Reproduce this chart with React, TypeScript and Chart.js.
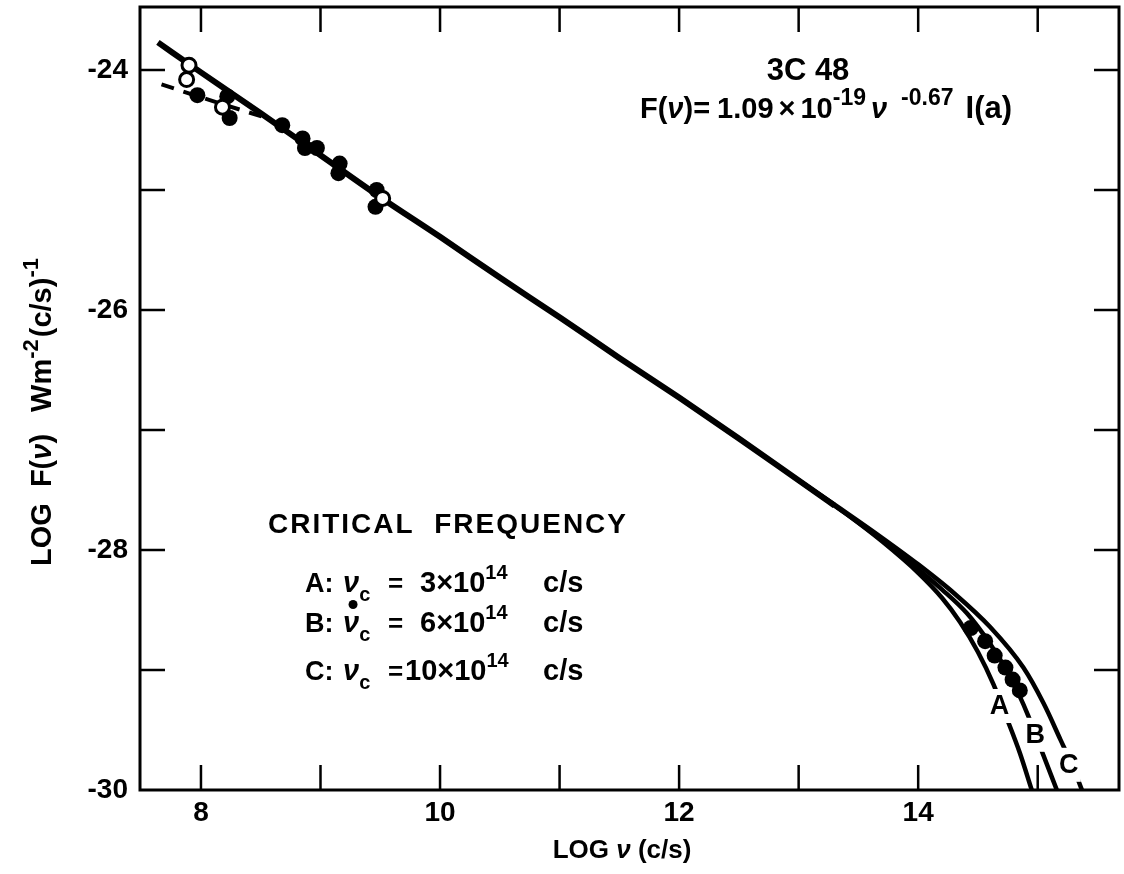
import React, { useEffect, useRef } from 'react';
import { Chart, registerables } from 'chart.js';

Chart.register(...registerables);

// ---------- data ----------
const xLabelValues = [8, 10, 12, 14];
const yLabelValues = [-24, -26, -28, -30];

// power-law fit line (solid)
const fitX = [7.64, 8.0, 8.5, 9.0, 9.5, 10.0, 10.5, 11.0, 11.5, 12.0, 12.5, 13.0, 13.3];
const fitY = [-23.77, -24.02, -24.36, -24.71, -25.06, -25.39, -25.73, -26.06, -26.4, -26.73, -27.07, -27.42, -27.63];

// low-frequency dashed line
const dashX = [7.67, 8.1, 8.55];
const dashY = [-24.12, -24.26, -24.4];

// cut-off curves A, B, C
const curveAX = [13.0, 13.4, 13.7, 14.0, 14.2, 14.35, 14.5, 14.63, 14.74, 14.85, 14.95];
const curveAY = [-27.42, -27.7, -27.93, -28.19, -28.4, -28.6, -28.85, -29.12, -29.4, -29.69, -30.0];
const curveBX = [13.0, 13.4, 13.7, 14.0, 14.2, 14.41, 14.6, 14.72, 14.85, 14.92, 15.02, 15.16];
const curveBY = [-27.42, -27.7, -27.92, -28.16, -28.33, -28.53, -28.78, -28.97, -29.22, -29.38, -29.64, -30.0];
const curveCX = [13.0, 13.4, 13.7, 14.0, 14.3, 14.6, 14.88, 15.05, 15.19, 15.3, 15.37];
const curveCY = [-27.42, -27.69, -27.9, -28.12, -28.36, -28.64, -28.98, -29.28, -29.58, -29.82, -30.0];

// observations
const filledX = [7.97, 8.22, 8.24, 8.68, 8.85, 8.87, 8.97, 9.16, 9.15, 9.47, 9.46, 14.44, 14.56, 14.64, 14.73, 14.79, 14.85];
const filledY = [-24.21, -24.22, -24.4, -24.46, -24.57, -24.65, -24.65, -24.78, -24.86, -25.0, -25.14, -28.65, -28.76, -28.88, -28.98, -29.08, -29.17];
const openX = [7.9, 7.88, 8.18, 9.52];
const openY = [-23.96, -24.08, -24.31, -25.07];

// curve labels
const curveLabels = ['A', 'B', 'C'];
const curveLabelX = [14.68, 14.98, 15.26];
const curveLabelY = [-29.3, -29.54, -29.79];

const FONT = '"Liberation Sans", Arial, sans-serif';
const f = (size: number, italic = false) => `${italic ? 'italic ' : ''}bold ${size}px ${FONT}`;

type Run = { t: string; pos?: 'sup' | 'sub'; gap?: number; italic?: boolean; dotAbove?: boolean; size?: number };

function drawRuns(
  ctx: CanvasRenderingContext2D, x: number, y: number, runs: Run[], size: number,
  measureOnly = false, supScale = 0.68,
) {
  let cx = x;
  for (const r of runs) {
    cx += r.gap ?? 0;
    const s = r.size ?? (r.pos ? Math.round(size * supScale) : size);
    ctx.font = f(s, r.italic);
    const dy = r.pos === 'sup' ? -size * 0.45 : r.pos === 'sub' ? size * 0.3 : 0;
    const w = ctx.measureText(r.t).width;
    if (!measureOnly) {
      ctx.fillText(r.t, cx, y + dy);
      if (r.dotAbove) {
        ctx.beginPath();
        ctx.arc(cx + w / 2 + 2, y - size * 0.95, 4.5, 0, Math.PI * 2);
        ctx.fill();
      }
    }
    cx += w;
  }
  return cx - x;
}

const pts = (xs: number[], ys: number[]) => xs.map((x, i) => ({ x, y: ys[i] }));

const decorPlugin = {
  id: 'decor',
  afterDatasetsDraw(chart: any) {
    const ctx: CanvasRenderingContext2D = chart.ctx;
    const xs = chart.scales.x;
    const ys = chart.scales.y;
    ctx.save();
    ctx.textAlign = 'center';
    ctx.textBaseline = 'middle';
    ctx.font = f(27);
    curveLabels.forEach((t, i) => {
      const px = xs.getPixelForValue(curveLabelX[i]);
      const py = ys.getPixelForValue(curveLabelY[i]);
      ctx.fillStyle = '#fff';
      ctx.fillRect(px - 12, py - 17, 24, 34);
      ctx.fillStyle = '#000';
      ctx.fillText(t, px, py + 1);
    });
    ctx.restore();
  },
  afterDraw(chart: any) {
    const ctx: CanvasRenderingContext2D = chart.ctx;
    const { left, right, top, bottom } = chart.chartArea;
    const xs = chart.scales.x;
    const ys = chart.scales.y;
    ctx.save();
    // frame
    ctx.strokeStyle = '#000';
    ctx.lineWidth = 3;
    ctx.strokeRect(left, top, right - left, bottom - top);
    // inward ticks
    ctx.lineWidth = 2.5;
    const tl = 25;
    for (let v = Math.ceil(xs.min); v <= Math.floor(xs.max); v++) {
      const px = xs.getPixelForValue(v);
      ctx.beginPath();
      ctx.moveTo(px, bottom);
      ctx.lineTo(px, bottom - tl);
      ctx.moveTo(px, top);
      ctx.lineTo(px, top + tl);
      ctx.stroke();
    }
    for (let v = Math.ceil(ys.min) + 1; v <= Math.floor(ys.max); v++) {
      const py = ys.getPixelForValue(v);
      ctx.beginPath();
      ctx.moveTo(left, py);
      ctx.lineTo(left + tl, py);
      ctx.moveTo(right, py);
      ctx.lineTo(right - tl, py);
      ctx.stroke();
    }

    ctx.fillStyle = '#000';
    ctx.textBaseline = 'alphabetic';
    ctx.textAlign = 'left';
    // title block
    ctx.font = f(31);
    const t1 = '3C 48';
    const w1 = ctx.measureText(t1).width;
    ctx.fillText(t1, 808 - w1 / 2, 80);
    drawRuns(ctx, 640, 118, [
      { t: 'F(' },
      { t: 'ν', italic: true },
      { t: ')=' },
      { t: '1.09', gap: 7 },
      { t: '×', gap: 5 },
      { t: '10', gap: 5 },
      { t: '-19', pos: 'sup' },
      { t: 'ν', italic: true, gap: 5 },
      { t: '-0.67', pos: 'sup', gap: 14 },
      { t: 'I(a)', gap: 12, size: 31 },
    ], 29, false, 0.8);

    // critical frequency block
    ctx.font = f(28);
    (ctx as any).letterSpacing = '2px';
    ctx.fillText('CRITICAL  FREQUENCY', 268, 533);
    (ctx as any).letterSpacing = '0px';
    const rows: { y: number; lab: string; val: Run[]; dot?: boolean }[] = [
      { y: 592, lab: 'A:', val: [{ t: '3×10' }, { t: '14', pos: 'sup' }] },
      { y: 632, lab: 'B:', val: [{ t: '6×10' }, { t: '14', pos: 'sup' }], dot: true },
      { y: 680, lab: 'C:', val: [{ t: '10×10' }, { t: '14', pos: 'sup' }] },
    ];
    rows.forEach((r, i) => {
      drawRuns(ctx, 305, r.y, [{ t: r.lab }], 27);
      drawRuns(ctx, 343, r.y, [{ t: 'ν', italic: true, dotAbove: r.dot }, { t: 'c', pos: 'sub' }], 29);
      drawRuns(ctx, 388, r.y, [{ t: '=' }], 26);
      drawRuns(ctx, i === 2 ? 405 : 420, r.y, r.val, 29);
      drawRuns(ctx, 543, r.y, [{ t: 'c/s' }], 29);
    });

    // x-axis title
    const xRuns: Run[] = [{ t: 'LOG ' }, { t: 'ν', italic: true }, { t: ' (c/s)' }];
    const xw = drawRuns(ctx, 0, 0, xRuns, 26, true);
    drawRuns(ctx, 622 - xw / 2, 858, xRuns, 26);

    // y-axis title (rotated)
    const yRuns: Run[] = [
      { t: 'LOG' },
      { t: 'F(', gap: 16 },
      { t: 'ν', italic: true },
      { t: ')' },
      { t: 'Wm', gap: 22 },
      { t: '-2', pos: 'sup' },
      { t: '(c/s)', gap: 2 },
      { t: '-1', pos: 'sup' },
    ];
    const yw = drawRuns(ctx, 0, 0, yRuns, 29, true, 0.75);
    ctx.translate(40, 412);
    ctx.rotate(-Math.PI / 2);
    drawRuns(ctx, -yw / 2, 11, yRuns, 29, false, 0.75);
    ctx.restore();
  },
};

export default function App() {
  const ref = useRef<HTMLCanvasElement | null>(null);
  useEffect(() => {
    if (!ref.current) return;
    const lineDefaults = { showLine: true, pointRadius: 0, borderColor: '#000', backgroundColor: '#000', fill: false };
    const chart = new Chart(ref.current, {
      type: 'scatter',
      data: {
        datasets: [
          { label: 'open', data: pts(openX, openY), pointRadius: 7, pointBackgroundColor: '#fff', pointBorderColor: '#000', pointBorderWidth: 3, showLine: false },
          { label: 'filled', data: pts(filledX, filledY), pointRadius: 8, pointBackgroundColor: '#000', pointBorderColor: '#000', pointBorderWidth: 0, showLine: false },
          { label: 'fit', data: pts(fitX, fitY), ...lineDefaults, borderWidth: 6, cubicInterpolationMode: 'monotone' },
          { label: 'dashed', data: pts(dashX, dashY), ...lineDefaults, borderWidth: 4, borderDash: [13, 10] },
          { label: 'A', data: pts(curveAX, curveAY), ...lineDefaults, borderWidth: 4.5, cubicInterpolationMode: 'monotone' },
          { label: 'B', data: pts(curveBX, curveBY), ...lineDefaults, borderWidth: 4.5, cubicInterpolationMode: 'monotone' },
          { label: 'C', data: pts(curveCX, curveCY), ...lineDefaults, borderWidth: 4.5, cubicInterpolationMode: 'monotone' },
        ] as any,
      },
      options: {
        responsive: false,
        animation: false,
        layout: { autoPadding: false, padding: { top: 7, right: 5, left: 0, bottom: 0 } },
        plugins: { legend: { display: false }, tooltip: { enabled: false } },
        scales: {
          x: {
            type: 'linear',
            min: 7.49,
            max: 15.68,
            grid: { display: false, drawTicks: false },
            border: { display: false },
            afterFit: (s: any) => { s.height = 84; s.paddingLeft = 0; s.paddingRight = 0; },
            ticks: {
              stepSize: 1,
              includeBounds: false,
              autoSkip: false,
              maxRotation: 0,
              padding: 6,
              color: '#000',
              font: { family: FONT, size: 28, weight: 'bold' },
              callback: (v: any) => (xLabelValues.includes(Number(v)) ? String(v) : ''),
            },
          },
          y: {
            type: 'linear',
            min: -30,
            max: -23.475,
            grid: { display: false, drawTicks: false },
            border: { display: false },
            afterFit: (s: any) => { s.width = 140; s.paddingTop = 0; s.paddingBottom = 0; },
            ticks: {
              stepSize: 1,
              includeBounds: false,
              autoSkip: false,
              padding: 12,
              color: '#000',
              font: { family: FONT, size: 28, weight: 'bold' },
              callback: (v: any) => (yLabelValues.includes(Number(v)) ? String(v) : ''),
            },
          },
        },
      },
      plugins: [decorPlugin],
    });
    return () => chart.destroy();
  }, []);
  return (
    <div style={{ position: 'absolute', left: 0, top: 0, width: 1124, height: 874, background: '#fff' }}>
      <canvas ref={ref} width={1124} height={874} style={{ display: 'block', width: 1124, height: 874 }} />
    </div>
  );
}
